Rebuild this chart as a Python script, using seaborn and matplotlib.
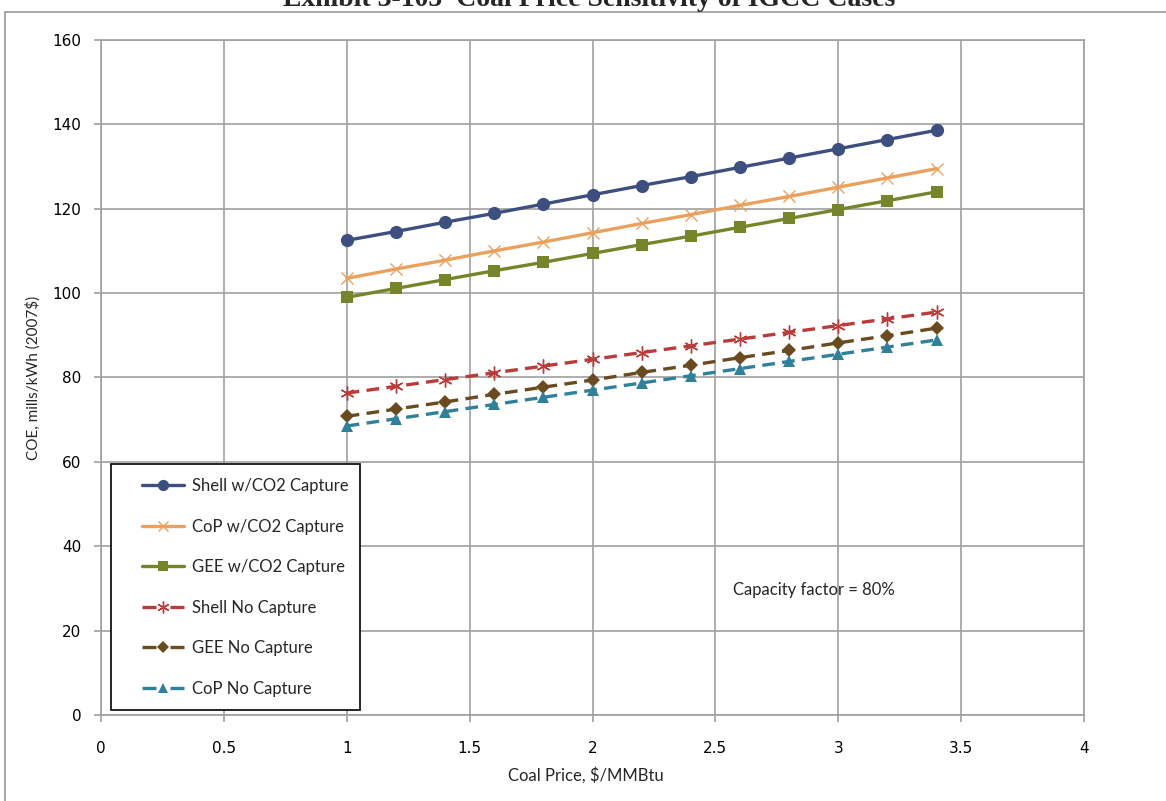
import numpy as np
import pandas as pd
import matplotlib
matplotlib.use("Agg")
import matplotlib.pyplot as plt
from matplotlib.lines import Line2D
from matplotlib.patches import Rectangle
import seaborn as sns

# ---------------- data ----------------
coal_price = [1.0, 1.2, 1.4, 1.6, 1.8, 2.0, 2.2, 2.4, 2.6, 2.8, 3.0, 3.2, 3.4]
shell_co2 = [112.5, 114.6, 116.8, 118.9, 121.1, 123.3, 125.5, 127.6, 129.8, 132.0, 134.2, 136.4, 138.6]
cop_co2 = [103.5, 105.7, 107.8, 110.0, 112.1, 114.3, 116.5, 118.6, 120.8, 122.9, 125.1, 127.3, 129.5]
gee_co2 = [99.0, 101.1, 103.2, 105.3, 107.3, 109.4, 111.5, 113.5, 115.6, 117.7, 119.8, 121.9, 124.0]
shell_nc = [76.3, 77.9, 79.5, 81.1, 82.7, 84.3, 85.9, 87.5, 89.1, 90.7, 92.3, 93.9, 95.5]
gee_nc = [70.8, 72.5, 74.2, 76.0, 77.7, 79.4, 81.2, 82.9, 84.7, 86.4, 88.2, 89.9, 91.7]
cop_nc = [68.5, 70.2, 71.9, 73.6, 75.3, 77.0, 78.7, 80.4, 82.1, 83.8, 85.5, 87.2, 88.9]

series_names = ["Shell w/CO2 Capture", "CoP w/CO2 Capture", "GEE w/CO2 Capture",
                "Shell No Capture", "GEE No Capture", "CoP No Capture"]
series_values = [shell_co2, cop_co2, gee_co2, shell_nc, gee_nc, cop_nc]

x_ticks = [0, 0.5, 1, 1.5, 2, 2.5, 3, 3.5, 4]
x_tick_labels = ["0", "0.5", "1", "1.5", "2", "2.5", "3", "3.5", "4"]
y_ticks = [0, 20, 40, 60, 80, 100, 120, 140, 160]

title = "Exhibit 3-105  Coal Price Sensitivity of IGCC Cases"
x_title = "Coal Price, $/MMBtu"
y_title = "COE, mills/kWh (2007$)"
note = "Capacity factor = 80%"

# ---------------- styles ----------------
asterisk = (6, 2, 0)
dashed = (0, (3.8, 2.2))
styles = {
    "Shell w/CO2 Capture": dict(color="#3D4F7F", marker="o", ms=9.5, ls="-", mew=0),
    "CoP w/CO2 Capture": dict(color="#EBA15E", marker="x", ms=9, ls="-", mew=1.0),
    "GEE w/CO2 Capture": dict(color="#76852A", marker="s", ms=9, ls="-", mew=0),
    "Shell No Capture": dict(color="#B93C3B", marker=asterisk, ms=10, ls=dashed, mew=1.0),
    "GEE No Capture": dict(color="#6A4A1F", marker="D", ms=7.5, ls=dashed, mew=0),
    "CoP No Capture": dict(color="#31809A", marker="^", ms=9, ls=dashed, mew=0),
}

df = pd.DataFrame({
    "price": np.tile(coal_price, len(series_names)),
    "coe": np.concatenate(series_values),
    "case": np.repeat(series_names, len(coal_price)),
})

sns.set_style("white")
plt.rcParams["font.family"] = ["DejaVu Sans"]

fig = plt.figure(figsize=(11.66, 8.01), dpi=100)
ax = fig.add_axes([0.0866, 0.1074, 0.8431, 0.8427])

for name in series_names:
    st = styles[name]
    sns.lineplot(data=df[df["case"] == name], x="price", y="coe", ax=ax,
                 color=st["color"], linewidth=2.4, linestyle=st["ls"],
                 marker=st["marker"], markersize=st["ms"],
                 markeredgecolor=st["color"], markerfacecolor=st["color"],
                 markeredgewidth=st["mew"], label=name, legend=False,
                 zorder=3)

ax.set_xlim(0, 4)
ax.set_ylim(0, 160)
ax.set_xticks(x_ticks)
ax.set_xticklabels(x_tick_labels)
ax.set_yticks(y_ticks)
ax.grid(True, color="#A0A0A0", linewidth=1.2)
ax.set_axisbelow(True)
for side in ["left", "bottom", "right", "top"]:
    ax.spines[side].set_visible(True)
    ax.spines[side].set_color("#A0A0A0")
    ax.spines[side].set_linewidth(1.2)
ax.tick_params(axis="both", which="major", direction="out", length=5, width=1.2,
               color="#A0A0A0", labelsize=11, labelcolor="black")
ax.tick_params(axis="y", pad=9, left=True)
ax.tick_params(axis="x", pad=14, bottom=True)

ax.set_xlabel(x_title, fontsize=12, family=["Lato", "DejaVu Sans"])
ax.set_ylabel(y_title, fontsize=11, family=["Lato", "DejaVu Sans"])
ax.xaxis.set_label_coords(0.493, -0.077)
ax.yaxis.label.set_va("center")
ax.yaxis.set_label_coords(-0.069, 0.5)

ax.text(2.572, 29.6, note, fontsize=12, family=["Lato", "DejaVu Sans"],
        ha="left", va="center")

# legend (dashed handles drawn as dash - marker - dash)
def legend_ls(ls):
    return "-" if ls == "-" else (0, (4.2, 4.2))

handles = [Line2D([0], [0], color=styles[n]["color"], lw=2.4, ls=legend_ls(styles[n]["ls"]),
                  marker=styles[n]["marker"], ms=styles[n]["ms"] * 0.85,
                  mec=styles[n]["color"], mfc=styles[n]["color"], mew=styles[n]["mew"])
           for n in series_names]
leg = ax.legend(handles, series_names, loc="upper left",
                bbox_to_anchor=(0.0417, 0.3506), borderaxespad=0, borderpad=0,
                frameon=False, handlelength=2.5, handletextpad=0.5,
                labelspacing=1.47, prop={"family": ["Lato", "DejaVu Sans"], "size": 12})
box = Rectangle((0.010, 0.0074), 0.253, 0.364, transform=ax.transAxes,
                fill=True, facecolor="white", edgecolor="black", linewidth=1.2, zorder=4)
ax.add_patch(box)
leg.set_zorder(5)

# outer frame and clipped title (the reference shows it cut at the top edge)
fig.add_artist(Line2D([5 / 1166, 1], [1 - 12 / 801, 1 - 12 / 801], color="#A0A0A0", lw=1.3))
fig.add_artist(Line2D([5 / 1166, 5 / 1166], [0, 1 - 12 / 801], color="#A0A0A0", lw=1.3))
fig.text(0.505, 1 - 6 / 801, title, ha="center", va="baseline", fontsize=20,
         fontweight="bold", family=["Liberation Serif", "DejaVu Serif"])

fig.savefig("out.png", dpi=100)
